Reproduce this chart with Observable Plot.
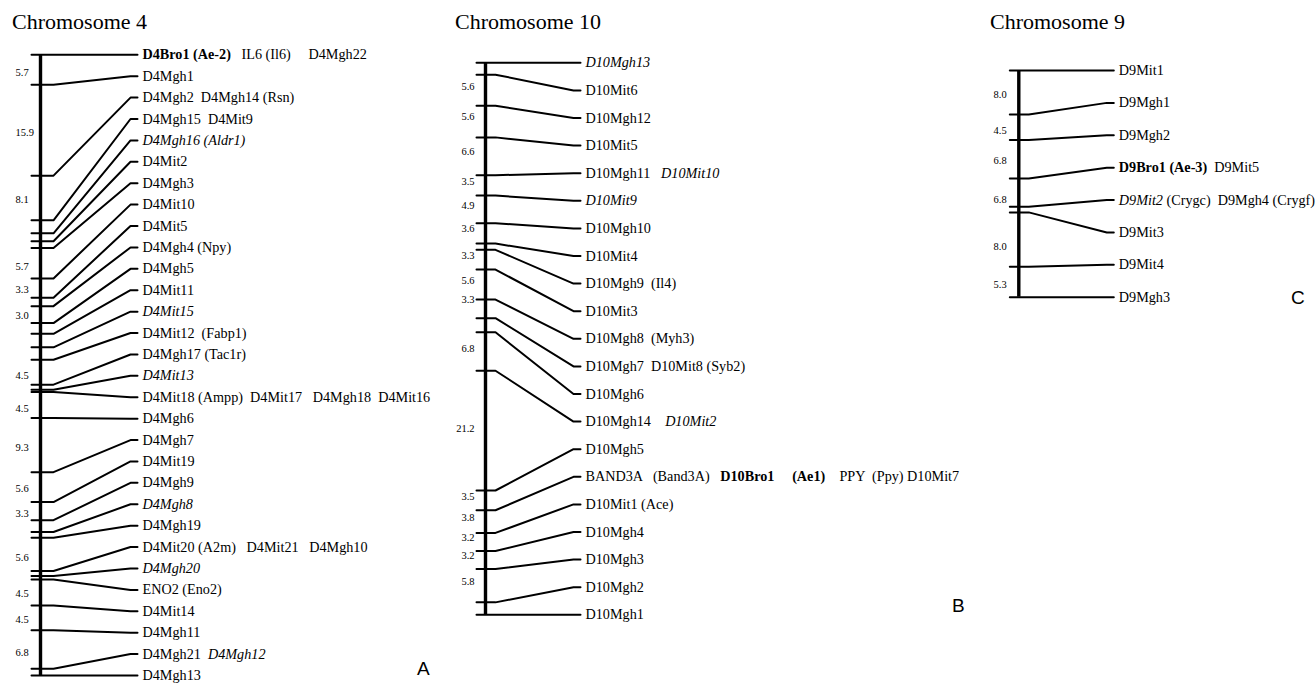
<!DOCTYPE html>
<html><head><meta charset="utf-8">
<script src="https://cdn.jsdelivr.net/npm/d3@7"></script>
<script src="https://cdn.jsdelivr.net/npm/@observablehq/plot@0.6"></script>
<style>
body{margin:0;background:#fff;}
#wrap{position:relative;width:1315px;height:684px;overflow:hidden;background:#fff;}
.col{position:absolute;top:0;}
.title{position:absolute;font-family:"Liberation Serif","Times New Roman",serif;font-size:22px;line-height:22px;color:#000;white-space:nowrap;}
.panel{position:absolute;font-family:"Liberation Sans",Arial,sans-serif;font-size:19px;line-height:19px;color:#000;}
svg text{white-space:pre;}
</style></head><body><div id="wrap"></div>
<script>
// ---------- DATA (markers top to bottom; ** = bold, _ = italic) ----------
const chr4Names = [
  "**D4Bro1** **(Ae-2)**   IL6 (Il6)     D4Mgh22",
  "D4Mgh1",
  "D4Mgh2  D4Mgh14 (Rsn)",
  "D4Mgh15  D4Mit9",
  "_D4Mgh16 (Aldr1)_",
  "D4Mit2",
  "D4Mgh3",
  "D4Mit10",
  "D4Mit5",
  "D4Mgh4 (Npy)",
  "D4Mgh5",
  "D4Mit11",
  "_D4Mit15_",
  "D4Mit12  (Fabp1)",
  "D4Mgh17 (Tac1r)",
  "_D4Mit13_",
  "D4Mit18 (Ampp)  D4Mit17   D4Mgh18  D4Mit16",
  "D4Mgh6",
  "D4Mgh7",
  "D4Mit19",
  "D4Mgh9",
  "_D4Mgh8_",
  "D4Mgh19",
  "D4Mit20 (A2m)   D4Mit21   D4Mgh10",
  "_D4Mgh20_",
  "ENO2 (Eno2)",
  "D4Mit14",
  "D4Mgh11",
  "D4Mgh21  _D4Mgh12_",
  "D4Mgh13"
];
// map positions in cM from the top marker
const chr4Pos = [0, 5.3, 21.4, 29.3, 31.6, 33.0, 34.2, 39.6, 43.0, 44.5, 47.5, 49.4, 51.8, 54.0,
  58.4, 59.3, 59.7, 64.3, 73.9, 79.2, 82.4, 84.5, 85.5, 91.4, 92.3, 92.9, 97.5, 101.9, 108.7, 109.9];
const chr4DistVals = ["5.7","15.9","8.1","5.7","3.3","3.0","4.5","4.5","9.3","5.6","3.3","5.6","4.5","4.5","6.8"];
const chr4DistPos = [3.1, 13.7, 25.7, 37.5, 41.6, 46.2, 56.8, 62.7, 69.6, 76.8, 81.2, 89.0, 95.4, 100.0, 105.9];

const chr10Names = [
  "_D10Mgh13_",
  "D10Mit6",
  "D10Mgh12",
  "D10Mit5",
  "D10Mgh11   _D10Mit10_",
  "_D10Mit9_",
  "D10Mgh10",
  "D10Mit4",
  "D10Mgh9  (Il4)",
  "D10Mit3",
  "D10Mgh8  (Myh3)",
  "D10Mgh7  D10Mit8 (Syb2)",
  "D10Mgh6",
  "D10Mgh14    _D10Mit2_",
  "D10Mgh5",
  "BAND3A   (Band3A)   **D10Bro1**     **(Ae1)**    PPY  (Ppy) D10Mit7",
  "D10Mit1 (Ace)",
  "D10Mgh4",
  "D10Mgh3",
  "D10Mgh2",
  "D10Mgh1"
];
const chr10Pos = [0, 2.1, 7.6, 13.2, 19.9, 23.5, 28.4, 32.0, 33.1, 36.6, 41.9, 45.2, 47.7, 54.5,
  75.7, 79.2, 83.2, 86.4, 89.6, 95.5, 97.7];
const chr10DistVals = ["5.6","5.6","6.6","3.5","4.9","3.6","3.3","5.6","3.3","6.8","21.2","3.5","3.8","3.2","3.2","5.8"];
const chr10DistPos = [4.3, 9.6, 15.8, 21.1, 25.3, 29.3, 34.1, 38.5, 41.9, 50.6, 64.8, 76.7, 80.5, 84.0, 87.3, 91.9];

const chr9Names = [
  "D9Mit1",
  "D9Mgh1",
  "D9Mgh2",
  "**D9Bro1** **(Ae-3)**  D9Mit5",
  "_D9Mit2_ (Crygc)  D9Mgh4 (Crygf)",
  "D9Mit3",
  "D9Mit4",
  "D9Mgh3"
];
const chr9Pos = [0, 7.8, 12.3, 19.1, 24.1, 25.1, 34.7, 40.1];
const chr9DistVals = ["8.0","4.5","6.8","6.8","8.0","5.3"];
const chr9DistPos = [4.2, 10.6, 15.9, 22.8, 31.2, 37.9];

const titles = ["Chromosome 4", "Chromosome 10", "Chromosome 9"];
const panelLetters = ["A", "B", "C"];

// ---------- LAYOUT ----------
const wrap = document.getElementById("wrap");
const SERIF = "Liberation Serif, Times New Roman, serif";

function styleRich(svg) {
  const NS = "http://www.w3.org/2000/svg";
  svg.querySelectorAll("text").forEach(t => {
    const s = t.textContent;
    if (!/\*\*|_/.test(s)) return;
    t.textContent = "";
    s.split(/(\*\*[^*]+\*\*|_[^_]+_)/).forEach(part => {
      if (!part) return;
      const ts = document.createElementNS(NS, "tspan");
      if (part.startsWith("**") && part.endsWith("**")) { ts.setAttribute("font-weight", "bold"); part = part.slice(2, -2); }
      else if (part.length > 1 && part.startsWith("_") && part.endsWith("_")) { ts.setAttribute("font-style", "italic"); part = part.slice(1, -1); }
      ts.textContent = part;
      t.appendChild(ts);
    });
  });
}

function chromosome(cfg) {
  const {names, pos, distVals, distPos, left, width, barX, top, bottom, tickL, tickR, elbow, numX, numAnchor} = cfg;
  const L = pos[pos.length - 1];
  const n = names.length;
  const rows = names.map((name, i) => ({name, locus: pos[i], row: i * L / (n - 1), i}));
  const pts = rows.flatMap(d => [
    {i: d.i, x: barX - tickL, y: d.locus},
    {i: d.i, x: barX + tickR, y: d.locus},
    {i: d.i, x: barX + elbow, y: d.row},
    {i: d.i, x: barX + elbow + 7, y: d.row}
  ]);
  const dist = distVals.map((v, i) => ({v, y: distPos[i]}));
  const svg = Plot.plot({
    width, height: 684,
    marginTop: 0, marginBottom: 0, marginLeft: 0, marginRight: 0,
    style: {background: "transparent", overflow: "visible"},
    x: {type: "identity", axis: null},
    y: {domain: [0, L], range: [top, bottom], axis: null},
    marks: [
      Plot.ruleX([barX], {y1: 0, y2: L, stroke: "#000", strokeWidth: 3.4}),
      Plot.line(pts, {x: "x", y: "y", z: "i", stroke: "#000", strokeWidth: 2, curve: "linear"}),
      Plot.text(rows, {x: barX + elbow + 12, y: "row", text: "name", textAnchor: "start",
        fontSize: 14.2, fontFamily: SERIF, fill: "#000"}),
      Plot.text(dist, {x: numX, y: "y", text: "v", textAnchor: numAnchor,
        fontSize: 10.5, fontFamily: SERIF, fill: "#000"})
    ]
  });
  styleRich(svg);
  const div = document.createElement("div");
  div.className = "col";
  div.style.left = left + "px";
  div.appendChild(svg);
  wrap.appendChild(div);
}

chromosome({names: chr4Names, pos: chr4Pos, distVals: chr4DistVals, distPos: chr4DistPos,
  left: 0, width: 440, barX: 40, top: 54.3, bottom: 675, tickL: 9, tickR: 13, elbow: 90, numX: 15, numAnchor: "start"});
chromosome({names: chr10Names, pos: chr10Pos, distVals: chr10DistVals, distPos: chr10DistPos,
  left: 440, width: 540, barX: 45, top: 62.3, bottom: 614.3, tickL: 9, tickR: 10, elbow: 88, numX: 34, numAnchor: "end"});
chromosome({names: chr9Names, pos: chr9Pos, distVals: chr9DistVals, distPos: chr9DistPos,
  left: 980, width: 335, barX: 38.3, top: 70, bottom: 296.7, tickL: 9, tickR: 10, elbow: 88, numX: 13, numAnchor: "start"});

// titles and panel letters
const titleLeft = [12, 455, 990];
titles.forEach((t, i) => {
  const d = document.createElement("div");
  d.className = "title"; d.textContent = t;
  d.style.left = titleLeft[i] + "px"; d.style.top = "11px";
  wrap.appendChild(d);
});
const panelPos = [[417, 659], [952, 596], [1291, 288]];
panelLetters.forEach((t, i) => {
  const d = document.createElement("div");
  d.className = "panel"; d.textContent = t;
  d.style.left = panelPos[i][0] + "px"; d.style.top = panelPos[i][1] + "px";
  wrap.appendChild(d);
});
</script>
</body></html>
